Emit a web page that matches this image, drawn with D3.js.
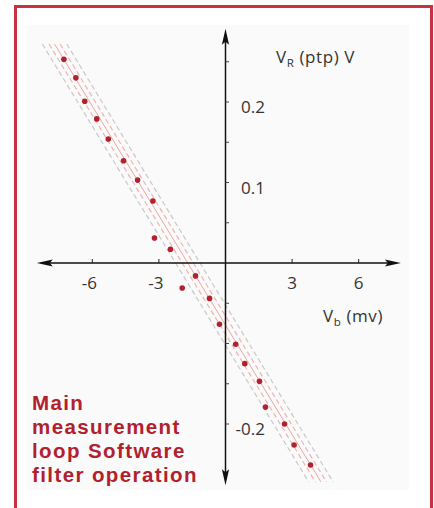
<!DOCTYPE html>
<html><head><meta charset="utf-8">
<script src="https://cdn.jsdelivr.net/npm/d3@7"></script>
<style>html,body{margin:0;padding:0;background:#fff;} svg{display:block}</style>
</head><body>
<script>
// ---- data ----
const vb = [-7.28,-6.74,-6.34,-5.80,-5.28,-4.59,-3.96,-3.27,-3.20,-2.48,-1.35,-1.95,-0.72,-0.27,0.46,0.87,1.53,1.80,2.66,3.09,3.83];
const vr = [0.253,0.230,0.201,0.179,0.154,0.127,0.103,0.077,0.031,0.017,-0.016,-0.031,-0.044,-0.076,-0.101,-0.125,-0.147,-0.179,-0.200,-0.226,-0.251];
const xTicks = [-6,-3,3,6];
const xTickLabels = ["-6","-3","3","6"];
const yTicks = [0.2,0.1,-0.2];
const yTickLabels = ["0.2","0.1","-0.2"];
const yMinorTicks = [0.25,0.15,0.05,-0.05,-0.1,-0.15];
const fitVb = [-7.7, 4.3];
const fitVr = [0.272, -0.272];
const bandOffsets = [-0.55,-0.25,0.25,0.55];
const bandKinds = ["outer","inner","inner","outer"];
const xAxisExtent = [-8.5, 7.9];
const yAxisExtent = [0.291, -0.276];
const caption = ["Main","measurement","loop Software","filter operation"];

const W = 434, H = 508;
const svg = d3.select("body").append("svg").attr("width", W).attr("height", H);
svg.append("rect").attr("width", W).attr("height", H).attr("fill", "#fff");

const x = d3.scaleLinear().domain([-6, 6]).range([92.3, 358.7]);
const y = d3.scaleLinear().domain([-0.2, 0.2]).range([424, 102]);

// faint picture background
svg.append("rect").attr("x", 27).attr("y", 25).attr("width", 382).attr("height", 465).attr("fill", "#fafafa");

// red frame (left, top, right)
svg.append("path").attr("d", `M15.5,${H} V6.5 H431.5 V${H}`)
  .attr("fill", "none").attr("stroke", "#c8323e").attr("stroke-width", 3);

// band lines
const g = svg.append("g");
bandOffsets.forEach((o, i) => {
  const outer = bandKinds[i] === "outer";
  g.append("line")
    .attr("x1", x(fitVb[0] + o)).attr("y1", y(fitVr[0]))
    .attr("x2", x(fitVb[1] + o)).attr("y2", y(fitVr[1]))
    .attr("stroke", outer ? "#c9c9c9" : "#eeb4b4")
    .attr("stroke-width", 1.2)
    .attr("stroke-dasharray", "5,3");
});
g.append("line")
  .attr("x1", x(fitVb[0])).attr("y1", y(fitVr[0]))
  .attr("x2", x(fitVb[1])).attr("y2", y(fitVr[1]))
  .attr("stroke", "#e9a6a6").attr("stroke-width", 1);

// axes lines
const ax = svg.append("g").attr("stroke", "#111").attr("fill", "#111");
const x0 = x(0), y0 = y(0);
ax.append("line").attr("x1", x(xAxisExtent[0]) + 6).attr("x2", x(xAxisExtent[1]) - 6)
  .attr("y1", y0).attr("y2", y0).attr("stroke-width", 1.5);
ax.append("line").attr("y1", y(yAxisExtent[0]) + 6).attr("y2", y(yAxisExtent[1]) - 6)
  .attr("x1", x0).attr("x2", x0).attr("stroke-width", 1.5);
// arrowheads
function arrow(tx, ty, dx, dy) {
  const L = 16, hw = 3.6;
  const bx = tx - dx * L, by = ty - dy * L;
  const px = -dy, py = dx;
  const mx = tx - dx * (L - 3), my = ty - dy * (L - 3);
  ax.append("path")
    .attr("d", `M${tx},${ty} L${bx + px * hw},${by + py * hw} L${mx},${my} L${bx - px * hw},${by - py * hw} Z`)
    .attr("stroke", "none");
}
arrow(x(xAxisExtent[0]), y0, -1, 0);
arrow(x(xAxisExtent[1]), y0, 1, 0);
arrow(x0, y(yAxisExtent[0]), 0, -1);
arrow(x0, y(yAxisExtent[1]), 0, 1);

// ticks
const font = "'Open Sans', 'Noto Sans', sans-serif";
const fs = 17;
xTicks.forEach((t, i) => {
  svg.append("line").attr("x1", x(t)).attr("x2", x(t)).attr("y1", y0).attr("y2", y0 - 4)
    .attr("stroke", "#222").attr("stroke-width", 1);
  svg.append("text").attr("x", x(t) - (t < 0 ? 3 : 0)).attr("y", y0 + 26)
    .attr("text-anchor", "middle").attr("font-family", font).attr("font-size", fs)
    .attr("fill", "#333").text(xTickLabels[i]);
});
yMinorTicks.concat(yTicks).forEach(t => {
  svg.append("line").attr("x1", x0).attr("x2", x0 + 3.5).attr("y1", y(t)).attr("y2", y(t))
    .attr("stroke", "#444").attr("stroke-width", 1);
});
yTicks.forEach((t, i) => {
  svg.append("text").attr("x", 265).attr("y", y(t) + 11)
    .attr("text-anchor", "end").attr("font-family", font).attr("font-size", fs)
    .attr("fill", "#333").text(yTickLabels[i]);
});

// axis titles
const ty = svg.append("text").attr("x", 276).attr("y", 63)
  .attr("font-family", font).attr("font-size", fs).attr("letter-spacing", 0.6).attr("fill", "#333");
ty.append("tspan").text("V");
ty.append("tspan").attr("font-size", 11.5).attr("dy", 4).text("R");
ty.append("tspan").attr("dy", -4).text(" (ptp) V");

const tx = svg.append("text").attr("x", 323).attr("y", 322)
  .attr("font-family", font).attr("font-size", fs).attr("letter-spacing", 0.6).attr("fill", "#333");
tx.append("tspan").text("V");
tx.append("tspan").attr("font-size", 11.5).attr("dy", 4).text("b");
tx.append("tspan").attr("dy", -4).text(" (mv)");

// data points
svg.append("g").selectAll("circle").data(vb).join("circle")
  .attr("cx", (d) => x(d)).attr("cy", (d, i) => y(vr[i]))
  .attr("r", 2.8).attr("fill", "#b0222c");

// caption
const cap = svg.append("g");
caption.forEach((c, i) => {
  cap.append("text").attr("x", 32).attr("y", 410 + i * 24)
    .attr("font-family", "'Liberation Sans', Arial, sans-serif")
    .attr("font-weight", 700).attr("font-size", 20.5).attr("letter-spacing", 1.4)
    .attr("fill", "#b3202d").text(c);
});
</script>
</body></html>
